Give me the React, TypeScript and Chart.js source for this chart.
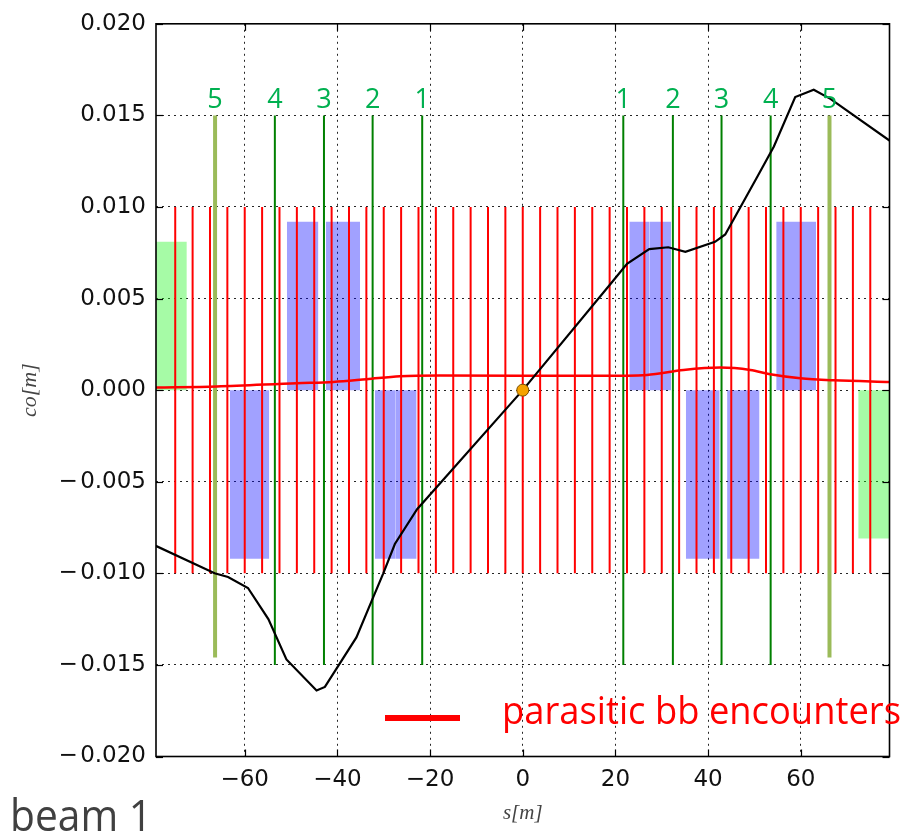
import React, { useEffect, useRef } from "react";
import { Chart, registerables } from "chart.js";
Chart.register(...registerables);

// ---------- axes ----------
const xMin = -79.15;
const xMax = 79.15;
const yMin = -0.02;
const yMax = 0.02;
const xTicks = [-60, -40, -20, 0, 20, 40, 60];
const yTicks = [-0.02, -0.015, -0.01, -0.005, 0, 0.005, 0.01, 0.015, 0.02];

// ---------- parasitic beam-beam encounters [m] ----------
const parasiticS = [
  -75, -71.25, -67.5, -63.75, -60, -56.25, -52.5, -48.75, -45, -41.25, -37.5,
  -33.75, -30, -26.25, -22.5, -18.75, -15, -11.25, -7.5, -3.75, 0, 3.75, 7.5,
  11.25, 15, 18.75, 22.5, 26.25, 30, 33.75, 37.5, 41.25, 45, 48.75, 52.5, 56.25,
  60, 63.75, 67.5, 71.25, 75,
];
const parasiticTop = 0.01;
const parasiticBottom = -0.01;

// ---------- numbered markers (1..5 on each side) ----------
const markerLabels = ["1", "2", "3", "4", "5"];
const markerRightS = [21.7, 32.4, 42.9, 53.5, 66.2];
const markerLeftS = [-21.7, -32.4, -42.9, -53.5, -66.4];
const markerTop = 0.015;
const markerBottom = -0.015;
const marker5Bottom = -0.0146;

// ---------- magnets (blue) ----------
const focStart = [-50.9, -42.5, 23.0, 27.4, 54.7];
const focEnd = [-44.1, -35.1, 27.4, 32.0, 63.3];
const focHeight = 0.0092;
const defStart = [-63.2, -31.9, -27.4, 35.2, 44.1];
const defEnd = [-54.7, -27.4, -22.9, 42.5, 51.1];
const defHeight = -0.0092;

// ---------- separation dipoles (green) ----------
const sepStart = [-80, 72.4];
const sepEnd = [-72.5, 80];
const sepHeight = [0.0081, -0.0081];

// ---------- black curve ----------
const orbitS = [
  -79.2, -66.5, -63.6, -59.3, -54.9, -51.0, -44.5, -42.7, -35.9, -32.6, -30.1,
  -27.6, -22.8, 0, 19.6, 22.5, 27.3, 31.4, 35.1, 41.5, 43.7, 50.5, 54.2, 58.8,
  62.8, 66.4, 79.3,
];
const orbitCo = [
  -0.0085, -0.01, -0.0102, -0.0108, -0.0125, -0.0147, -0.0164, -0.0162,
  -0.0135, -0.0115, -0.01, -0.0084, -0.0065, 0, 0.006, 0.0069, 0.0077, 0.0078,
  0.00755, 0.0081, 0.0085, 0.0116, 0.0133, 0.016, 0.0164, 0.0159, 0.0136,
];

// ---------- red curve ----------
const redS = [
  -79.2, -66, -48.8, -40.9, -33.7, -26.5, -17.9, 16.7, 26.8, 34.7, 42.6, 49.1,
  53.4, 59.9, 67.1, 79.3,
];
const redCo = [
  0.00014, 0.0002, 0.00038, 0.00045, 0.0006, 0.00076, 0.0008, 0.00078, 0.00083,
  0.0011, 0.00123, 0.0011, 0.00087, 0.00065, 0.00054, 0.00045,
];

// ---------- IP ----------
const ipS = [0];
const ipCo = [0];

const legendText = "parasitic bb encounters";
const cornerText = "beam 1";

function verticals(xs: number[], y0: number, y1: number) {
  const d: any[] = [];
  xs.forEach((x) => {
    d.push({ x, y: y0 }, { x, y: y1 }, { x, y: null });
  });
  return d;
}

function rect(x0: number, x1: number, h: number, color: string) {
  return {
    data: [
      { x: x0, y: h },
      { x: x1, y: h },
    ],
    borderWidth: 0,
    borderColor: "rgba(0,0,0,0)",
    backgroundColor: color,
    fill: "origin",
    pointRadius: 0,
    tension: 0,
    order: 10,
  };
}

const overlay = {
  id: "overlay",
  afterDatasetsDraw(chart: any) {
    const { ctx, chartArea: a, scales } = chart;
    const x = scales.x;
    const y = scales.y;
    ctx.save();
    ctx.strokeStyle = "#000";
    ctx.lineWidth = 1.2;
    const seg = (x0: number, y0: number, x1: number, y1: number) => {
      ctx.beginPath();
      ctx.moveTo(x0, y0);
      ctx.lineTo(x1, y1);
      ctx.stroke();
    };
    xTicks.forEach((v) => {
      const px = Math.round(x.getPixelForValue(v)) + 0.5;
      seg(px, a.bottom, px, a.bottom - 7);
      seg(px, a.top, px, a.top + 7);
    });
    yTicks.forEach((v) => {
      const py = Math.round(y.getPixelForValue(v)) + 0.5;
      seg(a.left, py, a.left + 7, py);
      seg(a.right, py, a.right - 7, py);
    });
    ctx.lineWidth = 1.6;
    ctx.strokeRect(a.left, a.top, a.right - a.left, a.bottom - a.top);

    // marker labels
    ctx.fillStyle = "rgb(0,176,80)";
    ctx.font = '27px "Open Sans"';
    ctx.textAlign = "center";
    ctx.textBaseline = "alphabetic";
    const ly = y.getPixelForValue(markerTop) - 7;
    markerRightS.forEach((s, i) => ctx.fillText(markerLabels[i], x.getPixelForValue(s), ly));
    markerLeftS.forEach((s, i) => ctx.fillText(markerLabels[i], x.getPixelForValue(s), ly));

    // legend
    ctx.strokeStyle = "#ff0000";
    ctx.lineWidth = 6;
    ctx.beginPath();
    ctx.moveTo(385, 718);
    ctx.lineTo(460, 718);
    ctx.stroke();
    ctx.fillStyle = "#ff0000";
    ctx.font = '38px "Open Sans"';
    ctx.textAlign = "left";
    ctx.fillText(legendText, 502, 724, 399);

    // corner text
    ctx.fillStyle = "#404040";
    ctx.font = '44px "Open Sans"';
    ctx.fillText(cornerText, 10, 831, 142);
    ctx.restore();
  },
};

const fmtY = (v: number) => (v < 0 ? "\u2212\u200A" : "") + Math.abs(v).toFixed(3);
const fmtX = (v: number) => (v < 0 ? "\u2212" : "") + String(Math.abs(v));

export default function App() {
  const ref = useRef<HTMLCanvasElement | null>(null);
  useEffect(() => {
    if (!ref.current) return;
    Chart.defaults.font.family = '"DejaVu Sans"';
    const datasets: any[] = [];
    sepStart.forEach((s, i) =>
      datasets.push(rect(s, sepEnd[i], sepHeight[i], "rgba(20,245,20,0.38)"))
    );
    focStart.forEach((s, i) =>
      datasets.push(rect(s, focEnd[i], focHeight, "rgba(0,0,255,0.37)"))
    );
    defStart.forEach((s, i) =>
      datasets.push(rect(s, defEnd[i], defHeight, "rgba(0,0,255,0.37)"))
    );
    datasets.push({
      data: verticals(parasiticS, parasiticBottom, parasiticTop),
      borderColor: "#ff0000",
      borderWidth: 2,
      pointRadius: 0,
      spanGaps: false,
      order: 8,
    });
    datasets.push({
      data: verticals(
        markerRightS.slice(0, 4).concat(markerLeftS.slice(0, 4)),
        markerBottom,
        markerTop
      ),
      borderColor: "#008000",
      borderWidth: 2,
      pointRadius: 0,
      spanGaps: false,
      order: 7,
    });
    datasets.push({
      data: verticals([markerRightS[4], markerLeftS[4]], marker5Bottom, markerTop),
      borderColor: "#9bbb59",
      borderWidth: 4,
      pointRadius: 0,
      spanGaps: false,
      order: 6,
    });
    datasets.push({
      data: redS.map((s, i) => ({ x: s, y: redCo[i] })),
      borderColor: "#ff0000",
      borderWidth: 2.5,
      pointRadius: 0,
      cubicInterpolationMode: "monotone",
      order: 5,
    });
    datasets.push({
      data: orbitS.map((s, i) => ({ x: s, y: orbitCo[i] })),
      borderColor: "#000000",
      borderWidth: 2.2,
      pointRadius: 0,
      tension: 0,
      order: 4,
    });
    datasets.push({
      data: ipS.map((s, i) => ({ x: s, y: ipCo[i] })),
      showLine: false,
      pointRadius: 6,
      pointBackgroundColor: "#f5a300",
      pointBorderColor: "#7a4e00",
      pointBorderWidth: 1,
      order: 1,
    });

    const gridCommon = {
      color: "rgba(0,0,0,0.85)",
      lineWidth: 1,
      drawTicks: false,
    };

    const chart = new Chart(ref.current, {
      type: "line",
      data: { datasets },
      options: {
        responsive: false,
        animation: false,
        devicePixelRatio: 1,
        layout: { padding: { left: 0, right: 31.5, top: 22, bottom: 0 } },
        plugins: {
          legend: { display: false },
          tooltip: { enabled: false },
        },
        scales: {
          x: {
            type: "linear",
            min: xMin,
            max: xMax,
            grid: gridCommon,
            border: { display: false, dash: [2, 4] },
            afterBuildTicks: (s: any) => {
              s.ticks = xTicks.map((v) => ({ value: v }));
            },
            afterFit: (s: any) => {
              s.height = 77.5;
            },
            ticks: {
              callback: (v: any) => fmtX(Number(v)),
              color: "#111",
              font: { size: 23, family: '"DejaVu Sans"' },
              padding: 10,
              maxRotation: 0,
              autoSkip: false,
            },
            title: {
              display: true,
              text: "s[m]",
              color: "#444",
              font: { size: 21, family: '"Liberation Serif"', style: "italic" },
              padding: { top: 0, bottom: 8 },
            },
          },
          y: {
            type: "linear",
            min: yMin,
            max: yMax,
            grid: gridCommon,
            border: { display: false, dash: [2, 4] },
            afterBuildTicks: (s: any) => {
              s.ticks = yTicks.map((v) => ({ value: v }));
            },
            afterFit: (s: any) => {
              s.width = 156;
            },
            ticks: {
              callback: (v: any) => fmtY(Number(v)),
              color: "#111",
              font: { size: 23, family: '"DejaVu Sans"' },
              padding: 10,
              autoSkip: false,
            },
            title: {
              display: true,
              text: "co[m]",
              color: "#444",
              font: { size: 22, family: '"Liberation Serif"', style: "italic" },
              padding: { top: 17, bottom: 0 },
            },
          },
        },
      },
      plugins: [overlay],
    } as any);
    return () => chart.destroy();
  }, []);

  return (
    <div style={{ position: "absolute", left: 0, top: 0, width: 921, height: 834, background: "#fff" }}>
      <canvas ref={ref} width={921} height={834} style={{ width: 921, height: 834 }} />
    </div>
  );
}
